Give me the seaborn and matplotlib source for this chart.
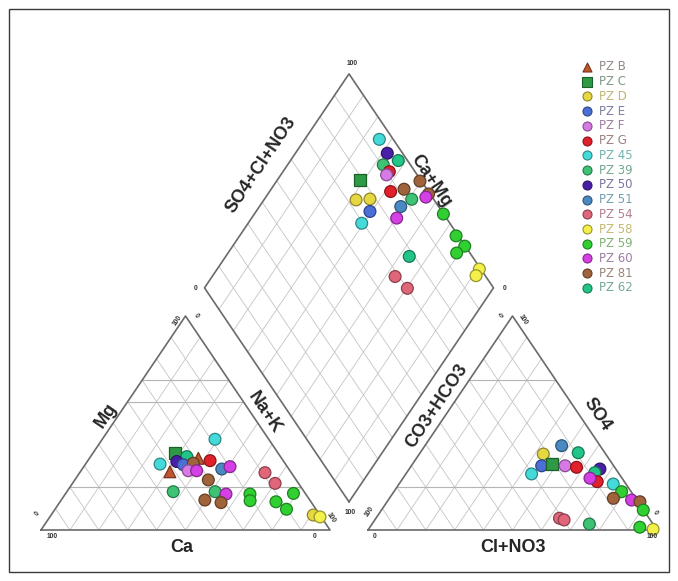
import numpy as np
import pandas as pd
import matplotlib
matplotlib.use("Agg")
import matplotlib.pyplot as plt
import matplotlib.colors as mcolors
from matplotlib.patches import Rectangle
import seaborn as sns

sns.set_style("white")
plt.rcParams['font.family'] = ['Liberation Sans', 'DejaVu Sans']

# ---------------- data ----------------
samples = ['PZ B', 'PZ C', 'PZ D', 'PZ E', 'PZ F', 'PZ G', 'PZ 45', 'PZ 39',
           'PZ 50', 'PZ 51', 'PZ 54', 'PZ 58', 'PZ 59', 'PZ 60', 'PZ 81', 'PZ 62']
colors = ['#c0562e', '#2f9a45', '#e6d840', '#4a6fd6', '#d77ae6', '#e0202a', '#45dada', '#3ec374',
          '#4a1fa8', '#4a89c2', '#e0667a', '#f3f04a', '#30d032', '#d440e4', '#a0643c', '#22c488']
text_colors = ['#958a84', '#7f9884', '#c0b474', '#7d80a2', '#9c7fa2', '#9c8082', '#72b2b2', '#72a88e',
               '#7b76a0', '#72a0b0', '#b2808e', '#c2ba74', '#80b276', '#9c7ca2', '#9c8476', '#72aa9a']
markers = ['^', 's', 'o', 'o', 'o', 'o', 'o', 'o', 'o', 'o', 'o', 'o', 'o', 'o', 'o', 'o']

# Cation triangle: Mg %, Na+K %  (Ca = 100 - Mg - Na+K)
cat_sample = ['PZ 45', 'PZ 45', 'PZ C', 'PZ 62', 'PZ 50', 'PZ E', 'PZ B', 'PZ B', 'PZ 81', 'PZ F',
              'PZ 60', 'PZ G', 'PZ 51', 'PZ 60', 'PZ 81', 'PZ 54', 'PZ 54', 'PZ 39', 'PZ 39',
              'PZ 60', 'PZ 81', 'PZ 81', 'PZ 59', 'PZ 59', 'PZ 59', 'PZ 59', 'PZ 59', 'PZ D', 'PZ 58']
cat_mg = [42.4, 30.8, 35.8, 34.3, 32.0, 30.5, 27.2, 33.5, 31.2, 27.7,
          27.7, 32.4, 28.5, 29.6, 23.4, 26.8, 21.8, 17.9, 17.9,
          16.8, 14.0, 12.8, 16.8, 13.7, 13.2, 9.7, 17.1, 7.0, 6.1]
cat_nak = [39.0, 25.8, 28.5, 33.3, 31.0, 34.0, 31.0, 37.7, 37.1, 37.1,
           40.0, 42.3, 48.3, 50.6, 46.2, 64.1, 70.1, 36.8, 51.3,
           55.6, 49.7, 55.9, 63.9, 65.5, 74.7, 80.1, 78.8, 90.7, 93.5]

# Anion triangle: SO4 %, Cl+NO3 %  (CO3+HCO3 = 100 - SO4 - Cl+NO3)
an_sample = ['PZ 51', 'PZ 62', 'PZ D', 'PZ E', 'PZ C', 'PZ 45', 'PZ F', 'PZ G', 'PZ 50', 'PZ 62',
             'PZ G', 'PZ 60', 'PZ 45', 'PZ 59', 'PZ 81', 'PZ 60', 'PZ 81', 'PZ 59', 'PZ 54',
             'PZ 54', 'PZ 39', 'PZ 59', 'PZ 58']
an_so4 = [39.4, 36.1, 35.5, 30.0, 30.8, 26.2, 30.0, 29.3, 28.5, 26.8,
          22.6, 24.2, 21.5, 17.9, 14.8, 14.0, 13.2, 9.3, 5.5,
          4.7, 2.8, 1.3, 0.3]
an_cl = [47.3, 54.7, 42.9, 45.1, 48.2, 43.5, 53.2, 57.5, 66.0, 65.1,
         68.0, 64.7, 74.1, 78.8, 77.5, 84.2, 87.5, 90.6, 63.5,
         65.5, 75.2, 93.4, 98.5]

# Diamond: SO4+Cl+NO3 %, Ca+Mg %
dia_sample = ['PZ 45', 'PZ 50', 'PZ 39', 'PZ 62', 'PZ G', 'PZ F', 'PZ C', 'PZ 81', 'PZ G', 'PZ 81',
              'PZ D', 'PZ D', 'PZ 39', 'PZ 81', 'PZ 60', 'PZ 51', 'PZ E', 'PZ 45', 'PZ 60',
              'PZ 59', 'PZ 59', 'PZ 59', 'PZ 59', 'PZ 58', 'PZ 58', 'PZ 62', 'PZ 54', 'PZ 54']
dia_so4cl = [95.2, 94.7, 90.6, 96.8, 91.1, 89.4, 79.0, 99.5, 86.9, 92.1,
             73.0, 78.0, 92.4, 99.5, 97.8, 86.9, 75.1, 69.5, 82.8,
             99.9, 99.2, 99.8, 95.4, 99.5, 96.8, 78.2, 68.6, 70.1]
dia_camg = [74.2, 68.2, 66.9, 62.7, 63.2, 63.4, 71.4, 50.4, 58.1, 54.0,
            68.1, 63.5, 49.0, 44.4, 44.6, 51.1, 60.6, 60.7, 49.8,
            34.6, 25.1, 19.7, 20.9, 9.3, 8.9, 36.5, 36.7, 29.7]

# ---------------- geometry ----------------
h = np.sqrt(3) / 2
g = 38 / 289
Bx, By = 1 + g / 2, g * h


def cat_xy(mg, nak):
    mg, nak = np.asarray(mg) / 100, np.asarray(nak) / 100
    return nak + 0.5 * mg, h * mg


def an_xy(so4, cl):
    so4, cl = np.asarray(so4) / 100, np.asarray(cl) / 100
    return 1 + g + cl + 0.5 * so4, h * so4


def dia_xy(a, m):
    a, m = np.asarray(a) / 100, np.asarray(m) / 100
    return Bx + 0.5 * (a - m), By + h * (a + m)


def px(xp, yp):
    return (xp - 41) / 289, (530 - yp) / 247.1


fig = plt.figure(figsize=(6.78, 5.81), dpi=100)
ax = fig.add_axes([0, 0, 1, 1])
ax.set_xlim(-41 / 289, 637 / 289)
ax.set_ylim((530 - 581) / 247.1, 530 / 247.1)
ax.axis('off')

grid_kw = dict(color='#c4c4c4', lw=0.6, zorder=1)
hl_kw = dict(color='#b4b4b4', lw=0.8, zorder=1)
edge_kw = dict(color='#6a6a6a', lw=1.2, zorder=2)


def triangle(x0, hlevels):
    for i in range(1, 10):
        t = i / 10
        ax.plot([x0 + t, x0 + 0.5 + 0.5 * t], [0, h * (1 - t)], **grid_kw)
        ax.plot([x0 + 1 - t, x0 + 0.5 * (1 - t)], [0, h * (1 - t)], **grid_kw)
    for t in hlevels:
        ax.plot([x0 + 0.5 * t, x0 + 1 - 0.5 * t], [h * t, h * t], **hl_kw)
    ax.plot([x0, x0 + 1, x0 + 0.5, x0], [0, 0, h, 0], **edge_kw)


triangle(0, [0.2, 0.6, 0.7])
triangle(1 + g, [0.2, 0.7])

# diamond
vL = (Bx - 0.5, By + h)
vR = (Bx + 0.5, By + h)
vT = (Bx, By + 2 * h)
for i in range(1, 10):
    t = i / 10
    p0 = (Bx + 0.5 * t, By + h * t)
    ax.plot([p0[0], p0[0] - 0.5], [p0[1], p0[1] + h], **grid_kw)
    q0 = (Bx - 0.5 * t, By + h * t)
    ax.plot([q0[0], q0[0] + 0.5], [q0[1], q0[1] + h], **grid_kw)
ax.plot([Bx, vR[0], vT[0], vL[0], Bx], [By, vR[1], vT[1], vL[1], By], **edge_kw)

# ---------------- points ----------------
pal = dict(zip(samples, colors))
mk = dict(zip(samples, markers))


def darker(c, f=0.62):
    r, gg, b = mcolors.to_rgb(c)
    return (r * f, gg * f, b * f)


def draw(xs, ys, labels):
    df = pd.DataFrame({'x': xs, 'y': ys, 'sample': labels})
    n0 = len(ax.collections)
    sns.scatterplot(data=df, x='x', y='y', hue='sample', style='sample', palette=pal,
                    markers=mk, s=72, linewidth=0.9, legend=False, ax=ax, zorder=5)
    for coll in ax.collections[n0:]:
        fc = coll.get_facecolors()
        coll.set_edgecolors([darker(c[:3]) for c in fc])


cx, cy = cat_xy(cat_mg, cat_nak)
draw(cx, cy, cat_sample)
axx, axy = an_xy(an_so4, an_cl)
draw(axx, axy, an_sample)
dx, dy = dia_xy(dia_so4cl, dia_camg)
draw(dx, dy, dia_sample)
ax.set_xlabel('')
ax.set_ylabel('')

# ---------------- labels ----------------
lab_kw = dict(fontsize=13, fontweight='bold', color='#262626', ha='center', va='center', zorder=6)
ang = 56
for txt, (xp, yp), rot in [('SO4+Cl+NO3', (261, 165), ang), ('Ca+Mg', (431, 181), -ang),
                           ('Mg', (106, 415), ang), ('Na+K', (264, 413), -ang),
                           ('Ca', (182, 548), 0), ('CO3+HCO3', (437, 406), ang),
                           ('SO4', (597, 414), -ang), ('Cl+NO3', (513, 548), 0)]:
    ax.text(*px(xp, yp), txt, rotation=rot, rotation_mode='anchor', **lab_kw)

tk_kw = dict(fontsize=4.8, fontweight='bold', color='#333333', ha='center', va='center', zorder=6)
for txt, (xp, yp), rot in [('100', (352, 64), 0), ('0', (196, 289), 0), ('0', (505, 289), 0),
                           ('100', (350, 512), 0),
                           ('100', (52, 536), 0), ('0', (38, 514), ang), ('100', (177, 321), ang),
                           ('0', (196, 316), -ang), ('100', (331, 518), -ang), ('0', (315, 537), 0),
                           ('100', (369, 512), ang), ('0', (375, 537), 0), ('0', (503, 316), ang),
                           ('100', (523, 320), -ang), ('0', (655, 513), -ang), ('100', (652, 537), 0)]:
    ax.text(*px(xp, yp), txt, rotation=rot, **tk_kw)

# ---------------- legend ----------------
for i, s in enumerate(samples):
    yp = 67 + i * 14.73
    mx, my = px(587, yp)
    ax.scatter([mx], [my], marker=mk[s], s=42, color=pal[s], edgecolors=[darker(pal[s])],
               linewidths=0.8, zorder=6)
    tx, ty = px(599, yp)
    ax.text(tx, ty, s, fontsize=8.5, family='DejaVu Sans', color=text_colors[i],
            ha='left', va='center', zorder=6)

# frame
fig.patches.append(Rectangle((8.5 / 678, 1 - 572 / 581), (669 - 8.5) / 678, (572 - 9) / 581,
                             transform=fig.transFigure, fill=False, edgecolor='#3a3a3a', lw=1.0))

fig.savefig('out.png', dpi=100)
